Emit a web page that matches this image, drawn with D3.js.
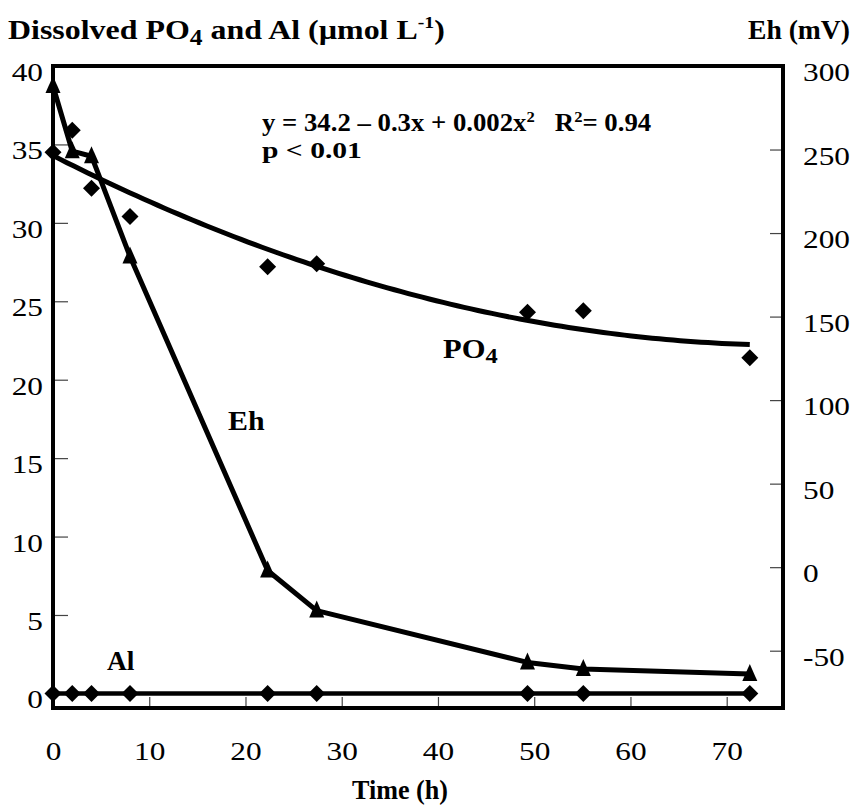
<!DOCTYPE html>
<html><head><meta charset="utf-8">
<script src="https://cdn.jsdelivr.net/npm/d3@7"></script>
<style>body{margin:0;background:#fff} svg text{font-family:'Liberation Serif','Times New Roman','DejaVu Serif Condensed','DejaVu Serif',serif !important;fill:#000}</style>
</head><body><svg id="c" width="856" height="812"></svg>
<script>
// ---- data ----
const times = [0, 2, 4, 8, 22.3, 27.4, 49.3, 55.1, 72.4];          // Time (h)
const po4   = [34.5, 35.9, 32.2, 30.4, 27.2, 27.4, 24.3, 24.4, 21.4]; // µmol/L
const al    = [0, 0, 0, 0, 0, 0, 0, 0, 0];                          // µmol/L
const eh    = [288, 249, 246, 186, -2, -26, -57, -61, -64];          // mV
const xTicks = [0, 10, 20, 30, 40, 50, 60, 70];
const leftTicks = [0, 5, 10, 15, 20, 25, 30, 35, 40];
const rightTicks = [-50, 0, 50, 100, 150, 200, 250, 300];

const svg = d3.select('#c');
const L = 53, R = 783, T = 66, B = 708;
const x = d3.scaleLinear().domain([0, 75.85]).range([L, R]);
const yL = d3.scaleLinear().domain([-0.93, 40]).range([B, T]);
const yR = d3.scaleLinear().domain([-84.3, 300]).range([B, T]);
const TICKFS = 26;
const fmt = d => String(d);

// axes (ticks inward)
const gx = svg.append('g').attr('transform', `translate(0,${B})`)
  .call(d3.axisBottom(x).tickValues(xTicks).tickFormat(fmt).tickSize(-11).tickSizeOuter(0).tickPadding(34));
const gl = svg.append('g').attr('transform', `translate(${L},0)`)
  .call(d3.axisLeft(yL).tickValues(leftTicks).tickFormat(fmt).tickSize(-15).tickSizeOuter(0).tickPadding(10));
const gr = svg.append('g').attr('transform', `translate(${R},0)`)
  .call(d3.axisRight(yR).tickValues(rightTicks).tickFormat(fmt).tickSize(-13).tickSizeOuter(0).tickPadding(20));
[gx, gl, gr].forEach(g => {
  g.attr('font-family', null);
  g.select('.domain').remove();
  g.selectAll('line').attr('stroke', '#444').attr('stroke-width', 1.2);
  g.selectAll('text').attr('font-size', TICKFS).attr('fill', '#000');
});
// horizontal fit of tick labels: "300" ≈ 47 px wide in the reference
const ref300 = gr.selectAll('text').filter(function () { return this.textContent === '300'; }).node();
const SX = 47 / ref300.getBBox().width;
[[gx, null], [gl, '0.56em'], [gr, '0.56em']].forEach(([g, dy]) => {
  g.selectAll('text').each(function () {
    const t = d3.select(this);
    const xx = +t.attr('x') || 0;
    t.attr('x', 0).attr('transform', `translate(${xx},0) scale(${SX},1)`);
    if (dy) t.attr('dy', dy);
  });
});

// frame
svg.append('rect').attr('x', L).attr('y', T).attr('width', R - L).attr('height', B - T)
  .attr('fill', 'none').attr('stroke', '#000').attr('stroke-width', 4);

const ptsAl = times.map((t, i) => [t, al[i]]);
const ptsPO = times.map((t, i) => [t, po4[i]]);
const ptsEh = times.map((t, i) => [t, eh[i]]);
svg.append('path').datum(ptsAl).attr('fill', 'none').attr('stroke', '#000').attr('stroke-width', 4.5)
  .attr('d', d3.line().x(d => x(d[0])).y(d => yL(d[1])));

// quadratic least-squares fit to PO4 (trendline)
function polyfit2(xs, ys) {
  let n = xs.length, s = [0,0,0,0,0], t = [0,0,0];
  for (let i = 0; i < n; i++) {
    let p = 1;
    for (let k = 0; k < 5; k++) { s[k] += p; if (k < 3) t[k] += p * ys[i]; p *= xs[i]; }
  }
  const A = [[s[0], s[1], s[2], t[0]], [s[1], s[2], s[3], t[1]], [s[2], s[3], s[4], t[2]]];
  for (let i = 0; i < 3; i++) {
    for (let j = i + 1; j < 3; j++) { const f = A[j][i] / A[i][i]; for (let k = i; k < 4; k++) A[j][k] -= f * A[i][k]; }
  }
  const c = [0, 0, 0];
  for (let i = 2; i >= 0; i--) { let v = A[i][3]; for (let k = i + 1; k < 3; k++) v -= A[i][k] * c[k]; c[i] = v / A[i][i]; }
  return c;
}
const cf = polyfit2(times, po4);
const fitPts = d3.range(0, 101).map(i => { const t = times[times.length - 1] * i / 100; return [t, cf[0] + cf[1] * t + cf[2] * t * t]; });
svg.append('path').datum(fitPts).attr('fill', 'none').attr('stroke', '#000').attr('stroke-width', 5)
  .attr('d', d3.line().x(d => x(d[0])).y(d => yL(d[1])));

// Eh line
svg.append('path').datum(ptsEh).attr('fill', 'none').attr('stroke', '#000').attr('stroke-width', 5).attr('stroke-linejoin', 'round')
  .attr('d', d3.line().x(d => x(d[0])).y(d => yR(d[1])));

// markers
const diamond = 'M0,-8.5L8.5,0L0,8.5L-8.5,0Z';
const tri = 'M0,-10L7.5,7L-7.5,7Z';
svg.append('g').selectAll('path').data(ptsAl).join('path').attr('d', diamond)
  .attr('transform', d => `translate(${x(d[0])},${yL(d[1])})`);
svg.append('g').selectAll('path').data(ptsPO).join('path').attr('d', diamond)
  .attr('transform', d => `translate(${x(d[0])},${yL(d[1])})`);
svg.append('g').selectAll('path').data(ptsEh).join('path').attr('d', tri)
  .attr('transform', d => `translate(${x(d[0])},${yR(d[1])})`);

// text helper: parts with optional sub/sup, fitted to a target width
function label(x0, y0, parts, size, width, anchor) {
  const g = svg.append('g');
  const t = g.append('text').attr('font-size', size).attr('font-weight', 'bold')
    .attr('text-anchor', anchor || 'start');
  let off = 0;
  parts.forEach(p => {
    const q = typeof p === 'string' ? { t: p } : p;
    const target = q.sub ? size * 0.2 : q.sup ? -size * 0.38 : 0;
    const ts = t.append('tspan').text(q.t).attr('dy', target - off);
    if (q.sub || q.sup) ts.attr('font-size', size * (q.sub ? 0.8 : 0.62));
    off = target;
  });
  const w = t.node().getBBox().width;
  const sx = width ? width / w : 1;
  g.attr('transform', `translate(${x0},${y0}) scale(${sx},1)`);
  return g;
}
label(8, 39, ['Dissolved PO', { t: '4', sub: 1 }, ' and Al (µmol L', { t: '-1', sup: 1 }, ')'], 28, 437);
label(850, 39, ['Eh (mV)'], 28, 102, 'end');
label(262, 131, ['y = 34.2 \u2013 0.3x + 0.002x', { t: '2', sup: 1 }, '\u00a0\u00a0\u00a0R', { t: '2', sup: 1 }, '= 0.94'], 25, 390);
label(262, 158, ['p < 0.01'], 24, 100);
label(443, 358, ['PO', { t: '4', sub: 1 }], 27, 55);
label(228, 430, ['Eh'], 28, 37);
label(107, 670, ['Al'], 27, 28);
label(400, 799, ['Time (h)'], 27, 96, 'middle');
</script></body></html>
